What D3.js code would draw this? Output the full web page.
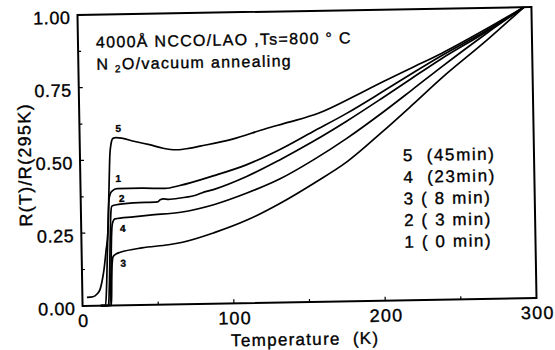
<!DOCTYPE html>
<html>
<head>
<meta charset="utf-8">
<script src="https://cdn.jsdelivr.net/npm/d3@7"></script>
<style>
    body { margin: 0; background: #fff; }
    svg { display: block; }
    text { font-family: "Liberation Sans", Arial, sans-serif; fill: #000; stroke: #000; stroke-width: 0.35px; }
</style>
</head>
<body>
<svg id="chart" width="555" height="350"></svg>
<script>

// R(T)/R(295K) curves
const temp5 = [3, 7, 9.7, 11.7, 13.1, 14.6, 16.1, 17.7, 18.8, 19.8, 20.6, 22, 24, 36.5, 46, 55, 64, 72, 79.5, 101, 123, 138.5, 158, 185, 201, 220, 240, 268, 295];
const r5 = [0.029, 0.031, 0.040, 0.055, 0.082, 0.124, 0.186, 0.261, 0.399, 0.519, 0.553, 0.574, 0.576, 0.562, 0.550, 0.537, 0.531, 0.535, 0.542, 0.564, 0.598, 0.619, 0.648, 0.712, 0.752, 0.798, 0.846, 0.922, 1.0];

const temp1 = [12, 15.2, 16.0, 17.1, 18.1, 18.7, 19.7, 20.8, 24.1, 40, 55.8, 65.6, 87.7, 109.8, 131.9, 154.1, 176.4, 200, 220, 240, 270, 295];
const r1 = [0, 0, 0.055, 0.192, 0.313, 0.364, 0.385, 0.393, 0.401, 0.401, 0.399, 0.408, 0.439, 0.475, 0.525, 0.585, 0.645, 0.716, 0.778, 0.838, 0.922, 1.0];

const temp2 = [12, 17.1, 18.1, 19.0, 19.7, 20.5, 22.7, 35, 50.6, 52.5, 54.8, 58, 66, 77, 80, 87.8, 109.9, 131.9, 154.1, 176.3, 200, 220, 240, 270, 295];
const r2 = [0, 0, 0.089, 0.227, 0.313, 0.341, 0.345, 0.351, 0.353, 0.360, 0.363, 0.361, 0.365, 0.375, 0.381, 0.392, 0.435, 0.490, 0.551, 0.618, 0.695, 0.762, 0.828, 0.918, 1.0];

const temp4 = [12, 18.1, 19.2, 20.0, 20.7, 22.4, 34.5, 45.5, 65.9, 87.8, 109.9, 132, 154.2, 176.5, 200, 220, 240, 270, 295];
const r4 = [0, 0, 0.124, 0.244, 0.282, 0.297, 0.303, 0.308, 0.316, 0.340, 0.378, 0.425, 0.488, 0.560, 0.645, 0.722, 0.80, 0.912, 1.0];

const temp3 = [12, 19.1, 19.6, 20.0, 20.8, 23.2, 25.5, 39.9, 57.5, 66, 87.9, 110, 132.1, 154.3, 176.5, 200, 220, 240, 270, 295];
const r3 = [0, 0, 0.089, 0.141, 0.168, 0.178, 0.182, 0.196, 0.205, 0.212, 0.244, 0.286, 0.342, 0.408, 0.48, 0.58, 0.67, 0.762, 0.888, 1.0];

const curveIds = ["5", "1", "2", "4", "3"];
const curveTemps = [temp5, temp1, temp2, temp4, temp3];
const curveVals = [r5, r1, r2, r4, r3];

// where each curve number sits (T, R)
const labelT = [25.6, 25.0, 27.1, 27.4, 27.4];
const labelR = [0.608, 0.436, 0.367, 0.264, 0.144];

const legendLabels = ["5  (45min)", "4  (23min)", "3 ( 8 min)", "2 ( 3 min)", "1 ( 0 min)"];

const xTicks = [0, 100, 200, 300];
const xMinorTicks = [50, 150, 250];
const yTicks = [0, 0.25, 0.5, 0.75, 1.0];
const yMinorTicks = [0.125, 0.375, 0.625, 0.875];

const svg = d3.select("#chart");

const margin = { top: 11, right: 21, bottom: 48, left: 80 };
const width = 555, height = 350;

const x = d3.scaleLinear().domain([0, 300]).range([margin.left, width - margin.right]);
const y = d3.scaleLinear().domain([0, 1]).range([height - margin.bottom, margin.top]);

// the scanned figure is tilted by about a degree
const g = svg.append("g").attr("transform", "rotate(-1, 307, 157)");

// frame
g.append("rect")
    .attr("x", x(0))
    .attr("y", y(1))
    .attr("width", x(300) - x(0))
    .attr("height", y(0) - y(1))
    .attr("fill", "none")
    .attr("stroke", "#000")
    .attr("stroke-width", 2);

// inward ticks
g.selectAll(".ytick")
    .data(yTicks.concat(yMinorTicks))
    .enter()
    .append("line")
    .attr("x1", x(0))
    .attr("x2", d => x(0) + (yTicks.includes(d) ? 4 : 3))
    .attr("y1", d => y(d))
    .attr("y2", d => y(d))
    .attr("stroke", "#000")
    .attr("stroke-width", 1.2);

g.selectAll(".xtick")
    .data(xTicks.slice(1, 3).concat(xMinorTicks))
    .enter()
    .append("line")
    .attr("x1", d => x(d))
    .attr("x2", d => x(d))
    .attr("y1", y(0))
    .attr("y2", d => y(0) - (xTicks.includes(d) ? 4 : 3))
    .attr("stroke", "#000")
    .attr("stroke-width", 1.2);

// tick labels
g.selectAll(".ylab")
    .data(yTicks)
    .enter()
    .append("text")
    .attr("x", x(0) - 7)
    .attr("y", d => y(d) + 2.5)
    .attr("dy", "0.35em")
    .attr("text-anchor", "end")
    .style("font-size", "18px")
    .style("letter-spacing", "0.6px")
    .text(d => d.toFixed(2));

g.selectAll(".xlab")
    .data(xTicks)
    .enter()
    .append("text")
    .attr("x", d => x(d) + 1)
    .attr("y", y(0) + 21)
    .attr("text-anchor", "middle")
    .style("font-size", "18px")
    .style("letter-spacing", "1.2px")
    .text(d => d);

// axis titles
g.append("text")
    .attr("x", 302)
    .attr("y", 345)
    .attr("text-anchor", "middle")
    .style("font-size", "17px")
    .style("letter-spacing", "1.3px")
    .style("white-space", "pre")
    .text("Temperature  (K)");

g.append("text")
    .attr("transform", "translate(25,160) rotate(-90)")
    .attr("text-anchor", "middle")
    .attr("dominant-baseline", "central")
    .style("font-size", "18px")
    .style("letter-spacing", "1.3px")
    .text("R(T)/R(295K)");

// curves
const line = d3.line()
    .x(d => x(d[0]))
    .y(d => y(d[1]))
    .curve(d3.curveMonotoneX);

g.selectAll(".curve")
    .data(curveTemps.map((ts, i) => ts.map((t, j) => [t, curveVals[i][j]])))
    .enter()
    .append("path")
    .attr("d", line)
    .attr("fill", "none")
    .attr("stroke", "#000")
    .attr("stroke-width", 1.7)
    .attr("stroke-linejoin", "round");

g.selectAll(".cnum")
    .data(curveIds)
    .enter()
    .append("text")
    .attr("x", (d, i) => x(labelT[i]))
    .attr("y", (d, i) => y(labelR[i]))
    .attr("dy", "0.35em")
    .attr("text-anchor", "middle")
    .style("font-size", "10px")
    .style("font-weight", "bold")
    .text(d => d);

// heading
const head = g.append("g").style("font-size", "16px").style("letter-spacing", "1.3px");

head.append("text")
    .attr("x", 98)
    .attr("y", 44)
    .style("white-space", "pre")
    .text("4000Å NCCO/LAO ,Ts=800 ° C");

const t2 = head.append("text")
    .attr("x", 98)
    .attr("y", 66)
    .style("white-space", "pre");
t2.append("tspan").text("N ");
t2.append("tspan").attr("dy", 3).style("font-size", "10px").text("2");
t2.append("tspan").attr("dy", -3).text("O/vacuum annealing");

// legend
g.selectAll(".leg")
    .data(legendLabels)
    .enter()
    .append("text")
    .attr("x", 403)
    .attr("y", (d, i) => 163 + i * 21.6)
    .style("font-size", "17px")
    .style("letter-spacing", "1.6px")
    .style("white-space", "pre")
    .text(d => d);

</script>
</body>
</html>
